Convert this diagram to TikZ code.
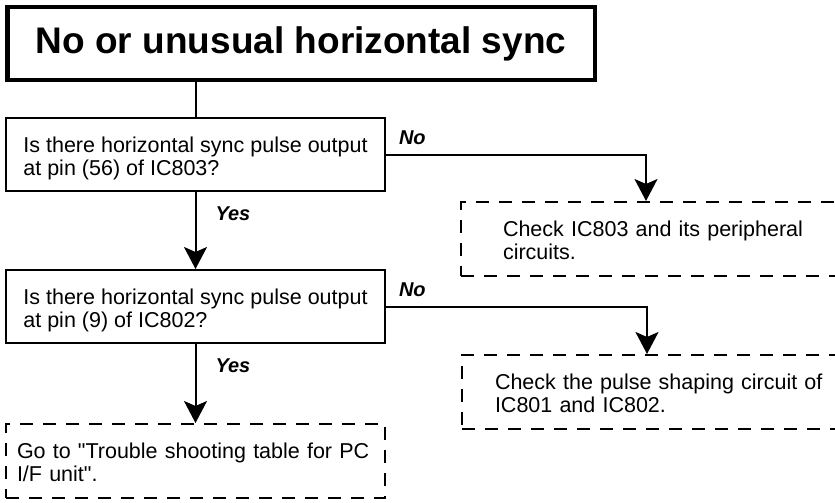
\documentclass[tikz,border=0pt]{standalone}
\usepackage{fontspec}
\setmainfont{Liberation Sans}[Ligatures=TeXOff]
\usepackage{tikz}
\usetikzlibrary{arrows.meta, positioning}

\newcommand{\qgap}{\rule{0pt}{23.5pt}}
\newcommand{\agap}{\rule{0pt}{17.5pt}}

\tikzset{
  basebox/.style={
    rectangle, align=left, inner sep=0pt,
    line width=2pt, font=\fontsize{21.5}{23}\selectfont
  },
  titlebox/.style={
    draw, line width=4.5pt,
    minimum width=587.5pt, minimum height=72.5pt,
    font=\fontsize{37}{44}\selectfont\bfseries
  },
  qbox/.style  ={basebox, draw, minimum width=379pt, minimum height=73pt},
  actbox/.style={basebox, draw, dash pattern=on 13pt off 10pt, minimum height=74pt},
  mainline/.style={line width=2pt},
  mainarr/.style={
    -{Stealth[length=22pt,width=23pt,inset=5pt]},
    line width=2pt
  },
  answer/.style={
    font=\fontsize{20}{24}\selectfont\bfseries\itshape,
    inner sep=0pt, anchor=base west
  }
}

\begin{document}
\begin{tikzpicture}[x=1pt, y=-1pt]
  \useasboundingbox (0,0) rectangle (835,503);
  \node[titlebox, anchor=north west] (title) at (5,5) {No or unusual horizontal sync};
  \node[qbox, below=35pt of title.south west, anchor=north west] (pin56)
    {\qgap Is there horizontal sync pulse output\\at pin (56) of IC803?};
  \node[qbox, below=77pt of pin56] (pin9)
    {\qgap Is there horizontal sync pulse output\\at pin (9) of IC802?};
  \node[actbox, below=79pt of pin9, text width=357pt, inner xsep=11pt, minimum width=379pt] (gopc)
    {\agap Go to "Trouble shooting table for PC\\I/F unit".};
  \node[actbox, below right=84pt and 74pt of pin56.north east, text width=330pt, inner xsep=42pt] (chk803)
    {\agap Check IC803 and its peripheral\\circuits.};
  \node[actbox, below right=85pt and 75pt of pin9.north east, text width=340pt, inner xsep=33pt] (chkshape)
    {\agap Check the pulse shaping circuit of\\IC801 and IC802.};
  % connectors
  \draw[mainline] (pin56.north |- title.south) -- (pin56.north);
  \draw[mainarr] (pin56.south) -- (pin9.north)
    node[answer, pos=0, xshift=19pt, yshift=-28pt] {Yes};
  \draw[mainarr] (pin9.south) -- (gopc.north)
    node[answer, pos=0, xshift=19pt, yshift=-28pt] {Yes};
  \draw[mainarr] (pin56.east) -| ([xshift=186pt]chk803.north west)
    node[answer, pos=0, xshift=12pt, yshift=10pt] {No};
  \draw[mainarr] (pin9.east) -| ([xshift=186pt]chkshape.north west)
    node[answer, pos=0, xshift=12pt, yshift=10pt] {No};
\end{tikzpicture}
\end{document}
